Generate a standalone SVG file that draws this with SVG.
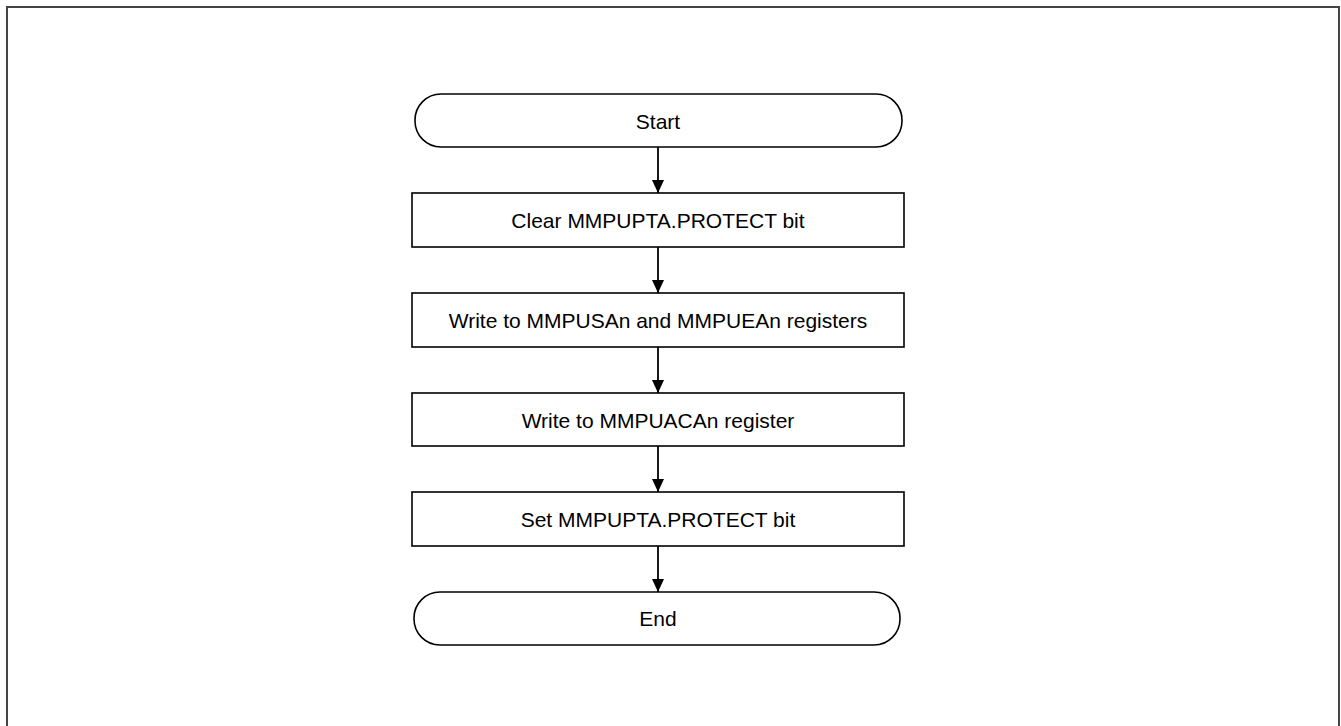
<svg xmlns="http://www.w3.org/2000/svg" width="1341" height="726" viewBox="0 0 1341 726">
<style>
.frame{fill:none;stroke:#444;stroke-width:2}
.n{fill:#fff;stroke:#000;stroke-width:1.6}
.t{font-family:"Liberation Sans",Arial,sans-serif;font-size:21px;fill:#000;text-anchor:middle;dominant-baseline:central}
.c{stroke:#000;stroke-width:1.8;fill:none;marker-end:url(#ah)}
</style>
<defs>
<marker id="ah" viewBox="0 0 13 12" refX="13" refY="6" markerWidth="13" markerHeight="12" markerUnits="userSpaceOnUse" orient="auto">
<path d="M0,0 L13,6 L0,12 Z" fill="#000"/>
</marker>
</defs>
<rect class="frame" x="7" y="7" width="1332" height="740"/>
<g id="connectors">
<line class="c" x1="658" y1="147" x2="658" y2="193"/>
<line class="c" x1="658" y1="247" x2="658" y2="293"/>
<line class="c" x1="658" y1="347" x2="658" y2="393"/>
<line class="c" x1="658" y1="446" x2="658" y2="492"/>
<line class="c" x1="658" y1="546" x2="658" y2="592"/>
</g>
<g id="start"><rect class="n" x="415" y="94" width="487" height="53" rx="26" ry="26"/><text class="t" x="658" y="121">Start</text></g>
<g id="step1"><rect class="n" x="412" y="193" width="492" height="54"/><text class="t" x="658" y="220">Clear MMPUPTA.PROTECT bit</text></g>
<g id="step2"><rect class="n" x="412" y="293" width="492" height="54"/><text class="t" x="658" y="320">Write to MMPUSAn and MMPUEAn registers</text></g>
<g id="step3"><rect class="n" x="412" y="393" width="492" height="53"/><text class="t" x="658" y="420">Write to MMPUACAn register</text></g>
<g id="step4"><rect class="n" x="412" y="492" width="492" height="54"/><text class="t" x="658" y="519">Set MMPUPTA.PROTECT bit</text></g>
<g id="end"><rect class="n" x="414" y="592" width="486" height="53" rx="26" ry="26"/><text class="t" x="658" y="618">End</text></g>
</svg>
